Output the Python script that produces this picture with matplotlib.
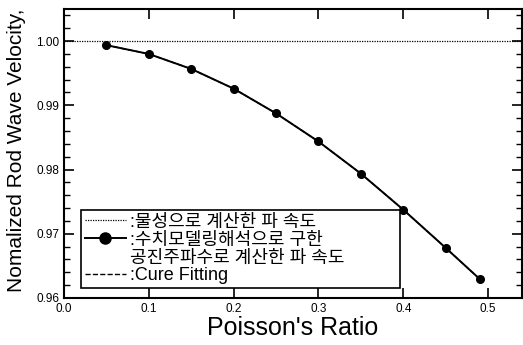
import numpy as np
import matplotlib
matplotlib.use('Agg')
import matplotlib.pyplot as plt
from matplotlib.lines import Line2D
from matplotlib.ticker import MultipleLocator

plt.rcParams['font.family'] = ['Liberation Sans', 'Noto Sans CJK KR', 'DejaVu Sans']

# Poisson's ratio vs normalized rod wave velocity
poisson = [0.05, 0.10, 0.15, 0.20, 0.25, 0.30, 0.35, 0.40, 0.45, 0.49]
velocity = [0.99937, 0.99800, 0.99567, 0.99260, 0.98875, 0.98437,
            0.97937, 0.97375, 0.96781, 0.96297]
ref_level = 1.0

label_ref = ':물성으로 계산한 파 속도'
label_num = ':수치모델링해석으로 구한'
label_num2 = '공진주파수로 계산한 파 속도'
label_fit = ':Cure Fitting'

fig = plt.figure(figsize=(5.23, 3.45), dpi=100)
ax = fig.add_axes([64/523, 1-298/345, 458/523, 289/345])

ax.axhline(ref_level, color='black', lw=0.9, ls=(0, (1, 1)))
ax.plot(poisson, velocity, color='black', lw=1.4, marker='o', ms=5.5)
ax.plot(poisson, velocity, color='black', lw=1.0, ls='--')

ax.set_xlim(0.0, 0.54)
ax.set_ylim(0.96, 1.005)
ax.xaxis.set_major_locator(MultipleLocator(0.1))
ax.yaxis.set_major_locator(MultipleLocator(0.01))
ax.yaxis.set_minor_locator(MultipleLocator(0.002))
ax.xaxis.set_major_formatter(plt.FormatStrFormatter('%.1f'))
ax.yaxis.set_major_formatter(plt.FormatStrFormatter('%.2f'))
ax.tick_params(which='both', direction='in', top=True, right=True, labelsize=8.5)
ax.tick_params(which='major', length=7, width=1.2)
ax.tick_params(which='minor', length=4, width=1.0)
for s in ax.spines.values():
    s.set_linewidth(1.5)

ax.set_xlabel("Poisson's Ratio", fontsize=18, labelpad=1)
fig.text(17/523, 1-150/345, 'Nomalized Rod Wave Velocity,', rotation=90,
         ha='center', va='center', fontsize=15)

handles = [
    Line2D([], [], color='black', lw=0.9, ls=(0, (1, 1))),
    Line2D([], [], color='black', lw=1.4, marker='o', ms=8),
    Line2D([], [], ls='none'),
    Line2D([], [], color='black', lw=1.0, ls='--'),
]
labels = [label_ref, label_num, label_num2, label_fit]
leg = ax.legend(handles, labels, loc='lower left', mode='expand',
                bbox_to_anchor=(17/458, 10/289, 319/458, 0.3), borderaxespad=0,
                fontsize=13, handlelength=2.3, handletextpad=0.2,
                labelspacing=0.05, borderpad=0.2, fancybox=False,
                framealpha=1, edgecolor='black')
leg.get_frame().set_linewidth(1.2)

fig.savefig('out.png', dpi=100)
